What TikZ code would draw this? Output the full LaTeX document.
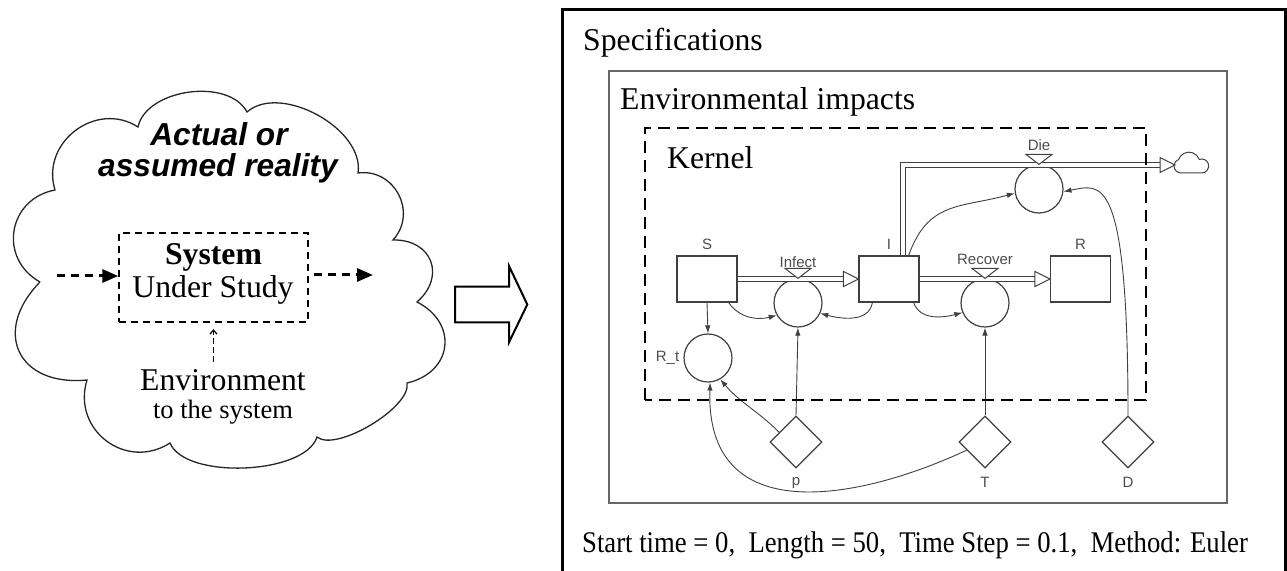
\documentclass[tikz,border=0pt]{standalone}
\usepackage{fontspec}
\setmainfont{Liberation Serif}
\newfontfamily\arialfont{Liberation Sans}
\newfontfamily\narrowserif[FakeStretch=0.89]{Liberation Serif}
\usetikzlibrary{positioning}
\usetikzlibrary{arrows.meta}
\usetikzlibrary{shapes.geometric}

\newcommand{\largetxt}{\fontsize{31.7}{36}\selectfont}
\newcommand{\smalltxt}{\fontsize{26.5}{30}\selectfont}
\newcommand{\sdtxt}{\arialfont\fontsize{15}{18}\selectfont}

\colorlet{sdgray}{black!75}
\colorlet{sdtext}{black!70}

\newcommand{\valve}[1]{\draw[draw=sdgray, fill=white, line width=1pt] (#1.north) -- ++(-13,10) -- ++(26,0) -- cycle;}
\newcommand{\flowhead}[1]{\draw[draw=sdgray, fill=white, line width=1pt] (#1) -- ++(-15,7.5) -- ++(0,-15) -- cycle;}

\tikzset{
  puff/.style={bend left=70, looseness=#1},
  sysbox/.style={draw, dash pattern=on 7pt off 5pt, line width=1.4pt, minimum width=189pt, minimum height=89pt, inner sep=0pt},
  envarrow/.style={dash pattern=on 8pt off 6pt, line width=3pt, -{Triangle[length=16pt,width=13pt]}},
  envup/.style={dash pattern=on 6pt off 3pt, line width=1.2pt, -{Straight Barb[length=4pt,width=7pt]}},
  stock/.style={draw=sdgray, line width=1.2pt, minimum width=60pt, minimum height=46pt, inner sep=0pt, fill=white},
  conv/.style={draw=sdgray, circle, line width=1.2pt, minimum size=48pt, inner sep=0pt, fill=white},
  param/.style={draw=sdgray, diamond, line width=1.2pt, minimum width=52pt, minimum height=52pt, inner sep=0pt, fill=white},
  sdlabel/.style={font=\sdtxt, text=sdtext, inner sep=1pt},
  pipe/.style={draw=sdgray, double=white, double distance=3.2pt, line width=1pt},
  info/.style={draw=sdgray, line width=0.9pt, -{Latex[length=8pt,width=5.5pt]}},
  kernelbox/.style={line width=2.8pt, dash pattern=on 12pt off 7pt},
}

\begin{document}
\begin{tikzpicture}[x=1pt, y=1pt]
  \useasboundingbox (0,0) rectangle (1287,570);
  % the reality cloud
  \coordinate (c1) at (40,288);
  \coordinate (c2) at (55,380);
  \coordinate (c3) at (138,443);
  \coordinate (c4) at (247,458);
  \coordinate (c5) at (358,397);
  \coordinate (c6) at (393,330);
  \coordinate (c7) at (417,268);
  \coordinate (c8) at (407,187);
  \coordinate (c9) at (317,133);
  \coordinate (c10) at (170,127);
  \coordinate (c11) at (87,190);
  \draw[line width=1.3pt, black!85] (c1) to[puff=1.32] (c2) to[puff=1.22] (c3)
    to[puff=0.91] (c4) to[puff=0.9] (c5) to[puff=1.25] (c6) to[puff=1.5] (c7)
    to[puff=1.47] (c8) to[puff=0.6] (c9) to[puff=0.69] (c10) to[puff=1.28] (c11)
    to[puff=1.63] (c1);
  \node[font=\arialfont\bfseries\itshape\largetxt, anchor=base] (real1) at (219,424) {Actual or};
  \node[font=\arialfont\bfseries\itshape\largetxt, anchor=base] (real2) at (218,393) {assumed reality};
  %
  \node[sysbox] (sys) at (213.5,292.5) {};
  \node[font=\largetxt\bfseries, anchor=base] (systop) at (213.5,305) {System};
  \node[font=\largetxt, anchor=base] (sysbot) at (213,272) {Under Study};
  \coordinate (inflow) at (57,294);
  \coordinate (outflow) at (373,295);
  \draw[envarrow] (inflow) -- (inflow -| sys.west);
  \draw[envarrow, shorten <=5pt] (sys.east |- outflow) -- (outflow);
  \node[font=\largetxt, anchor=base, inner sep=8pt] (env) at (223,179) {Environment};
  \node[font=\smalltxt, anchor=base] (envsub) at (223,151) {to the system};
  \draw[envup, shorten >=6.5pt] (env.north -| sys.south) -- (sys.south);
  %
  \draw[line width=2pt] (455,247.7) -- (509,247.7) -- (509,227.7) -- (527.3,265.5)
    -- (509,304) -- (509,283.3) -- (455,283.3) -- cycle;
  %
  \draw[line width=3pt] (562,-5) rectangle (1285,560);
  \node[font=\largetxt, anchor=base west, inner sep=0pt] (spec) at (583,519) {Specifications};
  \draw[black!60, line width=1.5pt] (609,67) rectangle (1227,499);
  \node[font=\largetxt, anchor=base west, inner sep=0pt] (envimp) at (620,460) {Environmental impacts};
  \node[font=\largetxt, anchor=base west, inner sep=0pt] (kern) at (667,401) {Kernel};
  \node[font=\narrowserif\fontsize{30}{34}\selectfont, anchor=base west, inner sep=0pt] (simset) at (582,18)
    {Start time = 0,\ \ Length = 50,\ \ Time Step = 0.1,\ \ Method: Euler};
  %
  \node[stock] (S) at (707,291) {};
  \node[stock] (I) at (889,291) {};
  \node[stock] (R) at (1080.5,291) {};
  \node[conv] (Infect) at (798,267) {};
  \node[conv] (Recover) at (985,267) {};
  \node[conv] (Die) at (1039,381) {};
  \node[conv] (Rt) at (708,212) {};
  \node[param] (p) at (796,128) {};
  \node[param] (T) at (985,128) {};
  \node[param] (D) at (1128,128) {};
  \coordinate (sink) at (1175,405);
  %
  \draw[pipe] (S.east) -- ([xshift=-15pt]I.west);
  \flowhead{I.west}
  \draw[pipe] (I.east) -- ([xshift=-15pt]R.west);
  \flowhead{R.west}
  \draw[pipe] ([xshift=14pt]I.north) |- ([xshift=-15pt]sink);
  \flowhead{sink}
  \valve{Infect}
  \valve{Recover}
  \valve{Die}
  \draw[draw=sdgray, line width=1pt] (1181,397) arc[start angle=270, end angle=110, radius=7]
    arc[start angle=160, end angle=20, radius=11]
    arc[start angle=110, end angle=-90, radius=7] -- cycle;
  %
  \node[sdlabel, above=5pt of S] (Slab) {S};
  \node[sdlabel, above=5pt of I] (Ilab) {I};
  \node[sdlabel, above=5pt of R] (Rlab) {R};
  \node[sdlabel, above=10pt of Infect] (Infectlab) {Infect};
  \node[sdlabel, above=13pt of Recover] (Recoverlab) {Recover};
  \node[sdlabel, above=13pt of Die] (Dielab) {Die};
  \node[sdlabel, left=3pt of Rt] (Rtlab) {R\_t};
  \node[sdlabel, below=7.7pt of p] (plab) {p};
  \node[sdlabel, below=7.7pt of T] (Tlab) {T};
  \node[sdlabel, below=7.7pt of D] (Dlab) {D};
  %
  \draw[info] (S.south) -- (Rt.north);
  \draw[info] ([xshift=-9pt]S.south east) to[out=-55, in=195] (Infect.210);
  \draw[info] ([xshift=14pt]I.south west) to[out=-100, in=-15] (Infect.-25);
  \draw[info] ([xshift=-6pt]I.south east) to[out=-70, in=195] (Recover.203);
  \draw[info] ([xshift=-11pt]I.north east) to[out=70, in=195, looseness=1.2] (Die.190);
  \draw[info] (D.north) .. controls +(0,246) and +(37,7) .. (Die.-6);
  \draw[info] (p.north) -- (Infect.south);
  \draw[info] (T.north) -- (Recover.south);
  \draw[info] (p.150) to[out=135, in=-50] (Rt.-60);
  \draw[info] (T.204) .. controls +(-107,-50) and +(-5,-148) .. (Rt.-85);
  %
  \draw[kernelbox] (645,170) rectangle (1146,442);
\end{tikzpicture}
\end{document}
